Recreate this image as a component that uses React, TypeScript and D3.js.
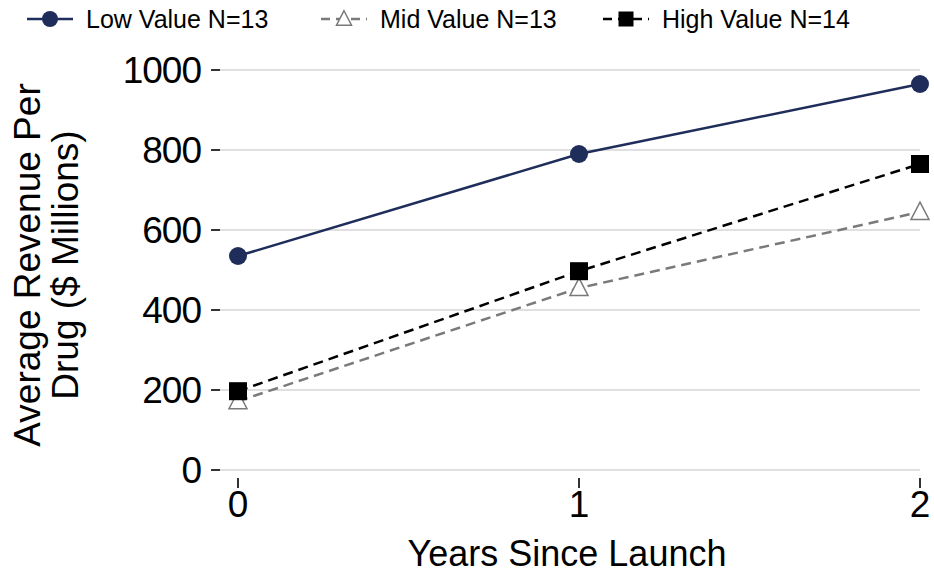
import * as d3 from 'd3';
import { useEffect, useRef } from 'react';

const years = [0, 1, 2];
const lowValue = [535, 790, 965];
const midValue = [172, 455, 645];
const highValue = [197, 497, 765];
const yTicks = [0, 200, 400, 600, 800, 1000];

const seriesList = [
  { name: 'Low Value N=13', values: lowValue, color: '#1f2d5a', dash: null, marker: 'circle' },
  { name: 'Mid Value N=13', values: midValue, color: '#7a7a7a', dash: '10,6', marker: 'triangle' },
  { name: 'High Value N=14', values: highValue, color: '#000000', dash: '10,6', marker: 'square' },
];

const width = 934;
const height = 575;

export default function App() {
  const ref = useRef<SVGSVGElement>(null);

  useEffect(() => {
    const svg = d3.select(ref.current);
    svg.selectAll('*').remove();
    const font = 'Liberation Sans, Arial, sans-serif';

    const x = d3.scaleLinear().domain([0, 2]).range([238, 920]);
    const y = d3.scaleLinear().domain([0, 1000]).range([470, 70]);

    // grid
    svg
      .append('g')
      .selectAll('line')
      .data(yTicks)
      .join('line')
      .attr('x1', 220)
      .attr('x2', 920)
      .attr('y1', (d) => y(d))
      .attr('y2', (d) => y(d))
      .attr('stroke', '#e0e0e0')
      .attr('stroke-width', 2);

    // y ticks
    const yAxis = svg.append('g');
    yAxis
      .selectAll('line')
      .data(yTicks)
      .join('line')
      .attr('x1', 211)
      .attr('x2', 220)
      .attr('y1', (d) => y(d))
      .attr('y2', (d) => y(d))
      .attr('stroke', '#333')
      .attr('stroke-width', 2);
    yAxis
      .selectAll('text')
      .data(yTicks)
      .join('text')
      .attr('x', 201)
      .attr('y', (d) => y(d) + 13)
      .attr('text-anchor', 'end')
      .attr('font-family', font)
      .attr('font-size', 37)
      .attr('letter-spacing', -1)
      .text((d) => d);

    // x ticks
    const xAxis = svg.append('g');
    xAxis
      .selectAll('line')
      .data(years)
      .join('line')
      .attr('x1', (d) => x(d))
      .attr('x2', (d) => x(d))
      .attr('y1', 478)
      .attr('y2', 488)
      .attr('stroke', '#333')
      .attr('stroke-width', 2);
    xAxis
      .selectAll('text')
      .data(years)
      .join('text')
      .attr('x', (d) => x(d))
      .attr('y', 517)
      .attr('text-anchor', 'middle')
      .attr('font-family', font)
      .attr('font-size', 37)
      .text((d) => d);

    svg
      .append('text')
      .attr('x', 567)
      .attr('y', 566)
      .attr('text-anchor', 'middle')
      .attr('font-family', font)
      .attr('font-size', 36)
      .text('Years Since Launch');

    const yTitle = svg
      .append('text')
      .attr('transform', 'translate(0,265) rotate(-90)')
      .attr('text-anchor', 'middle')
      .attr('font-family', font)
      .attr('font-size', 37);
    yTitle.append('tspan').attr('x', 0).attr('y', 40).text('Average Revenue Per');
    yTitle.append('tspan').attr('x', 0).attr('y', 78).text('Drug ($ Millions)');

    const drawMarker = (g, kind, color, cx, cy, s) => {
      if (kind === 'circle') {
        g.append('circle').attr('cx', cx).attr('cy', cy).attr('r', s).attr('fill', color);
      } else if (kind === 'square') {
        g.append('rect')
          .attr('x', cx - s)
          .attr('y', cy - s)
          .attr('width', 2 * s)
          .attr('height', 2 * s)
          .attr('fill', color);
      } else {
        const h = s * 1.1;
        g.append('path')
          .attr('d', `M${cx},${cy - h}L${cx + s},${cy + h * 0.75}L${cx - s},${cy + h * 0.75}Z`)
          .attr('fill', 'white')
          .attr('stroke', color)
          .attr('stroke-width', 1.5);
      }
    };

    const line = d3
      .line<number>()
      .x((_, i) => x(years[i]))
      .y((d) => y(d));

    seriesList.forEach((s) => {
      const g = svg.append('g');
      g.append('path')
        .attr('d', line(s.values))
        .attr('fill', 'none')
        .attr('stroke', s.color)
        .attr('stroke-width', 2.5)
        .attr('stroke-dasharray', s.dash);
      s.values.forEach((v, i) => {
        drawMarker(g, s.marker, s.color, x(years[i]), y(v), 9);
      });
    });

    // legend
    const legendX = [27, 321, 603];
    seriesList.forEach((s, i) => {
      const g = svg.append('g');
      const lx = legendX[i];
      g.append('line')
        .attr('x1', lx)
        .attr('x2', lx + 46)
        .attr('y1', 19)
        .attr('y2', 19)
        .attr('stroke', s.color)
        .attr('stroke-width', 2.5)
        .attr('stroke-dasharray', s.dash ? '9,6' : null);
      drawMarker(g, s.marker, s.color, lx + 23, 19, s.marker === 'circle' ? 8 : 7.5);
      g.append('text')
        .attr('x', lx + 59)
        .attr('y', 28)
        .attr('font-family', font)
        .attr('font-size', 25)
        .text(s.name);
    });
  }, []);

  return (
    <svg
      ref={ref}
      width={width}
      height={height}
      style={{ position: 'absolute', left: 0, top: 0, background: 'white' }}
    />
  );
}
